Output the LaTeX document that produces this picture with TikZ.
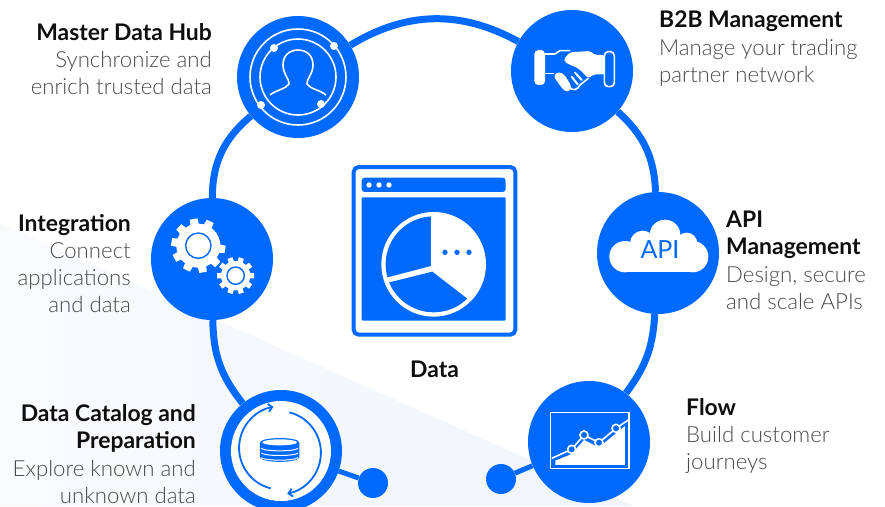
\documentclass[tikz,border=0pt]{standalone}
\usepackage{fontspec}
\usetikzlibrary{arrows.meta}
\setmainfont{Lato}
\newfontfamily\lightf{Lato Light}
\definecolor{hubblue}{HTML}{0069FF}
\definecolor{paleA}{HTML}{F8FAFE}
\definecolor{paleB}{HTML}{F1F5FB}
\definecolor{headc}{HTML}{0E0E0E}
\definecolor{descc}{HTML}{4A4A4A}
\tikzset{
  hub/.style={circle,fill=hubblue,minimum size=122pt,inner sep=0pt},
  enddot/.style={circle,fill=hubblue,minimum size=30pt,inner sep=0pt},
  ringline/.style={draw=hubblue,line width=7pt},
  tail/.style={draw=hubblue,line width=5pt},
  wline/.style={draw=white,line width=1.6pt},
  lab/.style={inner sep=0pt,font=\fontsize{22.2}{27.2}\selectfont,text=headc},
  labR/.style={lab,align=right,anchor=north east},
  labL/.style={lab,align=left,anchor=north west},
}
\newcommand{\hd}[1]{{\fontsize{22.9}{27.2}\selectfont\bfseries\color{headc}#1}}
\newcommand{\ds}[1]{{\lightf\color{descc}#1}}
\begin{document}
\begin{tikzpicture}[x=1pt,y=-1pt]
\clip (0,0) rectangle (885,506);
\shade[left color=paleA,right color=paleB] (0,223) -- (633,506) -- (0,506) -- cycle;

% ring
\node[hub] (master) at (298,77) {};
\node[hub] (btob) at (572,71) {};
\node[hub] (api) at (658,253) {};
\node[hub] (flow) at (589,442) {};
\node[hub] (catalog) at (281,451) {};
\node[hub] (integ) at (212,259) {};
\node[enddot] (dotA) at (373,483) {};
\node[enddot] (dotB) at (501,479) {};
\draw[ringline] (master) to[bend left=30] (btob);
\draw[ringline] (btob) to[bend left=23] (api);
\draw[ringline] (api) to[bend left=17] (flow);
\draw[ringline] (catalog) to[bend left=19] (integ);
\draw[ringline] (integ) to[bend left=25] (master);
\draw[tail] (catalog) -- (dotA);
\draw[tail] (flow) -- (dotB);

% master icon
\begin{scope}[shift={(298,77)}]
\draw[wline] (0,0) circle[radius=48];
\draw[wline] (0,0) circle[radius=38];
\foreach \p in {(-24,-29),(36,-31),(-37,28),(23,27)} \fill[white] \p circle[radius=4];
\draw[wline,line join=round] (-28,18) .. controls (-22,13) and (-12,12) .. (-9,7)
  .. controls (-8,3) and (-15,-3) .. (-15,-12)
  .. controls (-15,-22) and (-8,-27) .. (0,-27)
  .. controls (8,-27) and (15,-22) .. (15,-12)
  .. controls (15,-3) and (8,3) .. (9,7)
  .. controls (12,12) and (22,13) .. (28,18);
\end{scope}

% handshake icon
\begin{scope}[shift={(525,40)},x=0.3333pt,y=-0.3333pt]
\fill[white,rounded corners=4pt] (28,30) rectangle (60,135);
\draw[wline,rounded corners=4pt] (238,35) rectangle (268,140);
\draw[wline,line join=round] (60,42) -- (90,42) -- (105,32) -- (135,32);
\draw[wline] (60,100) -- (86,100);
\fill[white,rounded corners=2pt] (118,55) -- (135,37) -- (195,33) -- (210,45) -- (238,45) -- (238,103) -- (207,103) -- (190,115) -- (160,85) -- (130,72) -- (118,65) -- cycle;
\fill[white,rounded corners=3pt] (85,108) -- (100,95) -- (118,103) -- (140,140) -- (130,157) -- (115,150) -- cycle;
\draw[white,line width=2pt,line cap=round] (150,98) -- (170,120);
\draw[white,line width=2pt,line cap=round] (140,110) -- (158,133);
\draw[wline,line cap=round] (132,140) .. controls (142,155) and (158,150) .. (165,135) -- (190,115);
\end{scope}

% gears
\begin{scope}[shift={(140,180)},x=0.3333pt,y=-0.3333pt]
\begin{scope}[shift={(175,197)}]
\fill[white] (0,0) circle[radius=66];
\foreach \a in {8,44,...,330}
  \fill[white] ({\a-12}:62) -- ({\a-8}:82) -- ({\a+8}:82) -- ({\a+12}:62) -- cycle;
\draw[hubblue,line width=1.4pt] (0,0) circle[radius=38];
\end{scope}
\begin{scope}[shift={(287,287)}]
\fill[white] (0,0) circle[radius=44];
\foreach \a in {0,36,...,330}
  \fill[white] ({\a-12}:40) -- ({\a-8}:56) -- ({\a+8}:56) -- ({\a+12}:40) -- cycle;
\draw[hubblue,line width=1.4pt] (0,0) circle[radius=26];
\end{scope}
\end{scope}

% cloud
\begin{scope}[shift={(590,185)},x=0.3333pt,y=-0.3333pt]
\fill[white] (105,215) circle[radius=47];
\fill[white] (158,175) circle[radius=38];
\fill[white] (225,150) circle[radius=46];
\fill[white] (290,175) circle[radius=32];
\fill[white] (308,215) circle[radius=47];
\fill[white] (105,170) rectangle (308,262);
\end{scope}
\node[inner sep=0pt,text=hubblue,font=\fontsize{25}{25}\selectfont] (apiword) at (660,250) {API};

% catalog icon
\fill[white] (catalog.center) circle[radius=50];
\begin{scope}[shift={(200,380)},x=0.3333pt,y=-0.3333pt]
\draw[hubblue,line width=1.8pt,-{Straight Barb[length=4pt,width=8pt,line width=1.8pt]}] (212,325) arc[start angle=104,end angle=260,radius=125];
\draw[hubblue,line width=1.8pt,-{Straight Barb[length=4pt,width=8pt,line width=1.8pt]}] (268,97) arc[start angle=-76,end angle=79,radius=125];
\fill[hubblue] (180,187) -- (180,232) .. controls (185,250) and (295,250) .. (298,232) -- (298,187) .. controls (295,170) and (185,170) .. (180,187) -- cycle;
\fill[white] (239,187) ellipse[x radius=52,y radius=9];
\foreach \yy in {205,219,233} \draw[white,line width=1pt] (184,\yy) .. controls (195,\yy+10) and (285,\yy+10) .. (294,\yy);
\end{scope}

% flow icon
\begin{scope}[shift={(480,370)},x=0.3333pt,y=-0.3333pt]
\draw[wline] (212,128) rectangle (447,295);
\fill[white] (226,285) -- (226,272) -- (275,252) -- (312,210) -- (357,232) -- (408,190) -- (435,168) -- (435,285) -- cycle;
\draw[wline,line join=round] (215,265) -- (275,238) -- (312,195) -- (357,218) -- (408,175) -- (445,150);
\foreach \p in {(275,238),(312,195),(357,218),(408,175)}
  \draw[white,fill=hubblue,line width=1.6pt] \p circle[radius=12];
\end{scope}

% data window
\begin{scope}[shift={(340,155)},x=0.3333pt,y=-0.3333pt]
\draw[hubblue,line width=4pt,rounded corners=5pt] (41,36) rectangle (526,539);
\fill[hubblue,rounded corners=3pt] (65,68) rectangle (497,111);
\foreach \xx in {87,117,147} \fill[white] (\xx,90) circle[radius=8];
\fill[hubblue,rounded corners=1pt] (65,127) rectangle (497,497);
\fill[white] (281,328) circle[radius=157];
\begin{scope}
\clip (281,328) circle[radius=144];
\fill[hubblue] (273,333) -- (273,150) -- (100,150) -- (100,378) -- cycle;
\fill[hubblue] (277,350) -- (400,445) -- (300,520) -- (100,520) -- (100,394) -- cycle;
\end{scope}
\foreach \xx in {315,351,387} \fill[hubblue] (\xx,292) circle[radius=8];
\end{scope}

% labels
\node[labR] (tMaster) at (212,23) {\hd{Master Data Hub}\\\ds{Synchronize and}\\\ds{enrich trusted data}};
\node[labL] (tB2B) at (659,11) {\hd{B2B Management}\\\ds{Manage your trading}\\\ds{partner network}};
\node[labL] (tAPI) at (726,211) {\hd{API}\\\hd{Management}\\\ds{Design, secure}\\\ds{and scale APIs}};
\node[labR] (tInt) at (131,214) {\hd{Integration}\\\ds{Connect}\\\ds{applications}\\\ds{and data}};
\node[labR] (tCat) at (196,404.5) {\hd{Data Catalog and}\\\hd{Preparation}\\\ds{Explore known and}\\\ds{unknown data}};
\node[labL] (tFlow) at (686,398) {\hd{Flow}\\\ds{Build customer}\\\ds{journeys}};
\node[lab,anchor=center] (tData) at (434.5,369) {\hd{Data}};
\end{tikzpicture}
\end{document}
